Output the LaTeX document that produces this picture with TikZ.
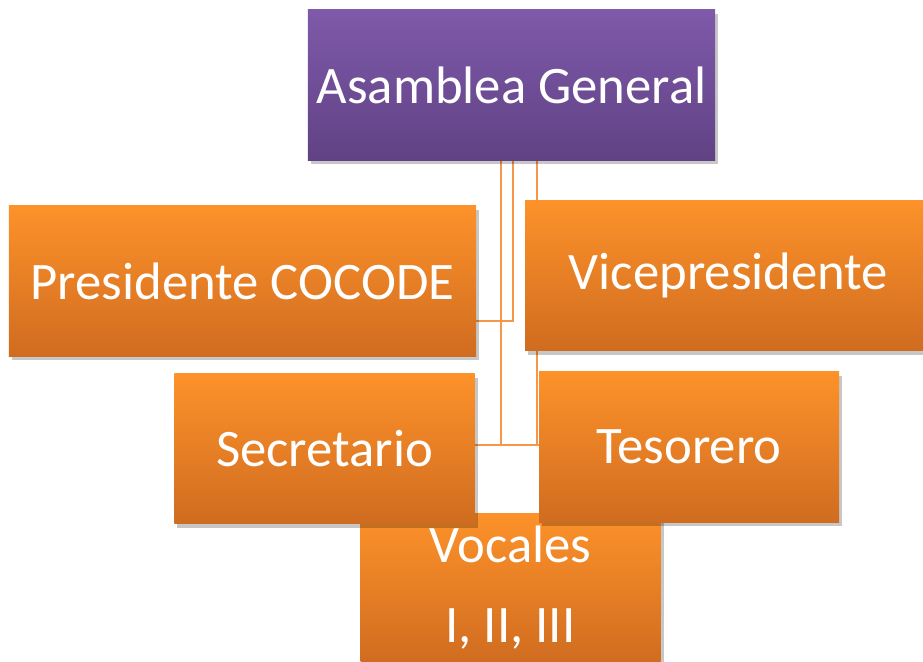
\documentclass[tikz,border=0pt]{standalone}
\usepackage{fontspec}
\setmainfont{Carlito}
\usetikzlibrary{shadows, calc, backgrounds}

\definecolor{naranjaA}{RGB}{253,146,42}
\definecolor{naranjaB}{RGB}{208,108,32}
\definecolor{moradoA}{RGB}{127,89,170}
\definecolor{moradoB}{RGB}{96,66,132}
\definecolor{lineaNar}{RGB}{246,150,72}

\tikzset{
  cargo/.style={top color=naranjaA, bottom color=naranjaB, inner sep=0pt,
    minimum width=6cm, minimum height=3cm, text=white,
    font=\fontsize{30}{45.5}\selectfont, align=center,
    drop shadow={shadow xshift=0.06cm, shadow yshift=-0.08cm, fill=black, opacity=0.22}},
  jefe/.style={cargo, top color=moradoA, bottom color=moradoB},
  enlace/.style={draw=lineaNar, line width=1.1pt}
}

\begin{document}
\begin{tikzpicture}[scale=0.2]
        \useasboundingbox (0,0) rectangle (92.3,-66.2);
        \node [jefe, minimum width=8.14cm] (asm) at (51.15,-8.5) {Asamblea General};
        \node [cargo, minimum width=9.34cm] (pres) at (24.25,-28.1) {Presidente COCODE};
        \node [cargo, minimum width=8.14cm] (vice) at (72.85,-27.55) {Vicepresidente};
        \node [cargo] (voc) at (51.05,-58.8) {Vocales\\I, II, III};
        \node [cargo] (sec) at (32.45,-44.85) {Secretario};
        \node [cargo] (tes) at (68.9,-44.7) {Tesorero};
        \begin{scope}[on background layer]
        \draw [enlace] ($(asm.south)+(0.15,0)$) |- ($(pres.east)+(0,-4)$);
        \draw [enlace] ($(asm.south)+(-1.05,0)$) |- ($(sec.east)+(0,0.35)$);
        \draw [enlace] ($(asm.south)+(-1.05,0)$) |- ($(tes.west)+(0,0.2)$);
        \draw [enlace] ($(asm.south)+(2.55,0)$) |- ($(tes.west)+(0,0.2)$);
        \end{scope}
\end{tikzpicture}
\end{document}
